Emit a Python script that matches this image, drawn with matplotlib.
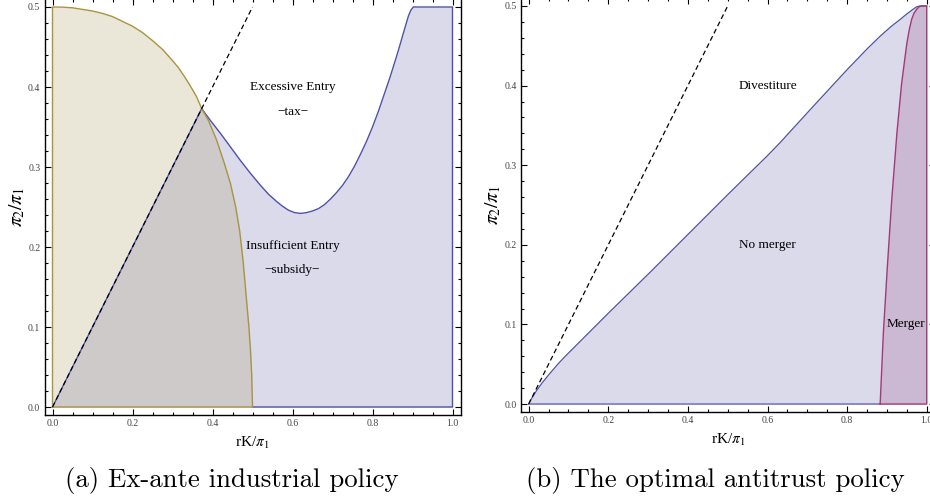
import numpy as np
import matplotlib
matplotlib.use("Agg")
import matplotlib.pyplot as plt
from matplotlib.ticker import MultipleLocator

plt.rcParams['font.family'] = ['Liberation Serif', 'DejaVu Serif']
plt.rcParams['mathtext.fontset'] = 'stix'

# diagonal (dashed) in both panels
diag_x = [0.0, 0.5]
diag_y = [0.0, 0.5]

# panel (a): olive quarter curve
olive_x = [0.0, 0.025, 0.05, 0.075, 0.10, 0.125, 0.15, 0.175, 0.20, 0.225, 0.25, 0.275,
           0.30, 0.315, 0.33, 0.345, 0.36, 0.373, 0.39, 0.41, 0.43, 0.445, 0.458,
           0.468, 0.477, 0.485, 0.491, 0.495, 0.498, 0.5]
olive_y = [0.5, 0.4998, 0.499, 0.497, 0.495, 0.492, 0.488, 0.482, 0.476, 0.468, 0.458, 0.447,
           0.433, 0.424, 0.413, 0.401, 0.388, 0.373, 0.358, 0.334, 0.304, 0.279, 0.250,
           0.220, 0.180, 0.134, 0.100, 0.071, 0.040, 0.0]

# panel (a): blue boundary
blue_a_x = [0.0, 0.373, 0.395, 0.42, 0.445, 0.47, 0.495, 0.52, 0.54, 0.56, 0.575, 0.59,
            0.605, 0.62, 0.635, 0.65, 0.665, 0.68, 0.695, 0.71, 0.725, 0.74, 0.755,
            0.77, 0.785, 0.80, 0.815, 0.83, 0.843, 0.855, 0.866, 0.877, 0.884, 0.89,
            0.896, 0.902, 1.0]
blue_a_y = [0.0, 0.373, 0.358, 0.342, 0.325, 0.308, 0.292, 0.277, 0.266, 0.257, 0.251, 0.246,
            0.243, 0.242, 0.243, 0.245, 0.248, 0.253, 0.260, 0.268, 0.277, 0.288, 0.301,
            0.316, 0.332, 0.350, 0.370, 0.392, 0.411, 0.430, 0.448, 0.467, 0.479, 0.489,
            0.496, 0.5, 0.5]

# panel (b): no-merger boundary
blue_b_x = [0.0, 0.005, 0.01, 0.02, 0.033, 0.05, 0.074, 0.09, 0.116, 0.135, 0.162, 0.2,
            0.3, 0.4, 0.5, 0.6, 0.631, 0.715, 0.8, 0.85, 0.883, 0.91, 0.933, 0.95,
            0.966, 0.975, 0.983, 1.0]
blue_b_y = [0.0, 0.005, 0.009, 0.017, 0.026, 0.0365, 0.0505, 0.059, 0.072, 0.0815, 0.095, 0.114,
            0.163, 0.213, 0.263, 0.312, 0.328, 0.374, 0.42, 0.446, 0.462, 0.474, 0.483, 0.490,
            0.496, 0.499, 0.5, 0.5]

# panel (b): merger boundary
merge_x = [0.883, 0.891, 0.901, 0.912, 0.925, 0.937, 0.944, 0.950, 0.956, 0.962, 0.968,
           0.975, 0.981, 0.987, 1.0, 1.0]
merge_y = [0.0, 0.089, 0.172, 0.256, 0.340, 0.403, 0.430, 0.453, 0.470, 0.483, 0.491,
           0.496, 0.499, 0.5, 0.5, 0.0]

blue_fill = '#dadaeb'
blue_line = '#5050a8'
beige = '#ebe7d8'
olive = '#a8943e'
gray = '#cdcac9'
purple = '#cbb8d2'
magenta = '#a33a76'

fig = plt.figure(figsize=(9.3, 4.98), dpi=100)
ax1 = fig.add_axes([44.5 / 930, 83 / 498, 416 / 930, 416 / 498])
ax2 = fig.add_axes([520.7 / 930, 86 / 498, 414 / 930, 414 / 498])


def style(ax):
    ax.set_xlim(-0.02, 1.02)
    ax.set_ylim(-0.01, 0.51)
    ax.xaxis.set_major_locator(MultipleLocator(0.2))
    ax.xaxis.set_minor_locator(MultipleLocator(0.05))
    ax.yaxis.set_major_locator(MultipleLocator(0.1))
    ax.yaxis.set_minor_locator(MultipleLocator(0.02))
    ax.xaxis.set_major_formatter(matplotlib.ticker.FormatStrFormatter('%.1f'))
    ax.yaxis.set_major_formatter(matplotlib.ticker.FormatStrFormatter('%.1f'))
    ax.tick_params(which='both', direction='in', top=True, right=True,
                   labelsize=7, labelcolor='#444444', width=0.8)
    ax.tick_params(which='major', length=4, pad=3)
    ax.tick_params(which='minor', length=2.2)
    for s in ax.spines.values():
        s.set_linewidth(1.0)
    ax.set_xlabel(r'rK/$\pi_1$', fontsize=11, labelpad=5)
    ax.set_ylabel(r'$\pi_2/\pi_1$', fontsize=14, labelpad=1)


# panel (a)
ax1.fill_between(blue_a_x, 0, blue_a_y, color=blue_fill, lw=0)
ax1.fill_between(olive_x, 0, olive_y, color=beige, lw=0)
ox = np.array(olive_x)
ax1.fill_between(ox, 0, np.minimum(olive_y, np.interp(ox, diag_x, diag_y)), color=gray, lw=0)
ax1.plot(blue_a_x + [1.0, 0.5], blue_a_y + [0.0, 0.0], color=blue_line, lw=1.0)
ax1.plot([0.0] + olive_x + [0.0], [0.0] + olive_y + [0.0], color=olive, lw=1.0)
ax1.plot(diag_x, diag_y, color='black', lw=0.9, ls=(0, (4, 2.5)))
ax1.text(0.6, 0.40, 'Excessive Entry', ha='center', va='center', fontsize=9.5)
ax1.text(0.6, 0.369, '\u2212tax\u2212', ha='center', va='center', fontsize=9.5)
ax1.text(0.6, 0.201, 'Insufficient Entry', ha='center', va='center', fontsize=9.5)
ax1.text(0.6, 0.171, '\u2212subsidy\u2212', ha='center', va='center', fontsize=9.5)
style(ax1)

# panel (b)
ax2.fill_between(blue_b_x, 0, blue_b_y, color=blue_fill, lw=0)
ax2.fill(merge_x, merge_y, color=purple, lw=0)
ax2.plot(blue_b_x, blue_b_y, color=blue_line, lw=0.9)
ax2.plot([0.0, merge_x[0]], [0.0, 0.0], color='#7a7ac0', lw=1.2)
ax2.plot(merge_x + [merge_x[0]], merge_y + [merge_y[0]], color=magenta, lw=1.0)
ax2.plot(diag_x, diag_y, color='black', lw=0.9, ls=(0, (4, 2.5)))
ax2.text(0.6, 0.40, 'Divestiture', ha='center', va='center', fontsize=9.5)
ax2.text(0.6, 0.20, 'No merger', ha='center', va='center', fontsize=9.5)
ax2.text(0.948, 0.101, 'Merger', ha='center', va='center', fontsize=9.5)
style(ax2)

fig.text(232 / 930, 1 - 480 / 498, '(a) Ex-ante industrial policy', family='cmr10',
         fontsize=19.3, ha='center', va='center')
fig.text(715 / 930, 1 - 480 / 498, '(b) The optimal antitrust policy', family='cmr10',
         fontsize=19.3, ha='center', va='center')

fig.savefig('out.png', dpi=100)
